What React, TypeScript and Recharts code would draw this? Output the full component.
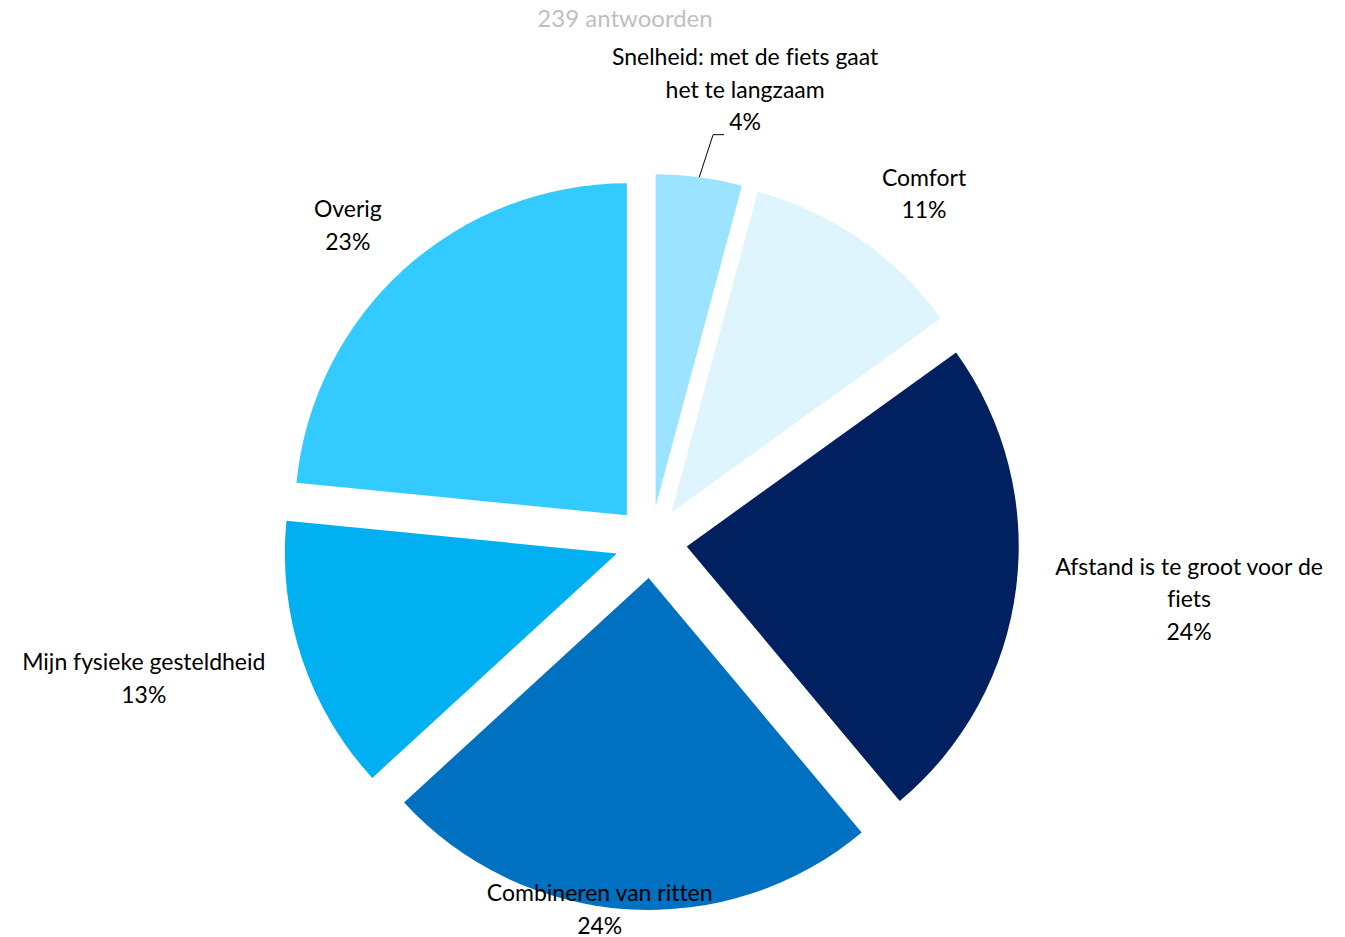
import React from 'react';
import { PieChart, Pie, Cell, Sector } from 'recharts';

// antwoorden per reden (239 totaal)
const categories = [
    'Snelheid: met de fiets gaat het te langzaam',
    'Comfort',
    'Afstand is te groot voor de fiets',
    'Combineren van ritten',
    'Mijn fysieke gesteldheid',
    'Overig',
];
const labelLines = [
    ['Snelheid: met de fiets gaat', 'het te langzaam'],
    ['Comfort'],
    ['Afstand is te groot voor de', 'fiets'],
    ['Combineren van ritten'],
    ['Mijn fysieke gesteldheid'],
    ['Overig'],
];
const counts = [10, 26, 57, 58, 32, 56];
const colors = ['#9BE3FF', '#DFF5FD', '#002060', '#0070C0', '#00B0F0', '#33CAFF'];

// label placement: distance from centre and angle nudge (degrees clockwise)
const labelDistance = [463, 443, 541, 370, 525, 439];
const labelAngleShift = [4.2, 3.4, -1.2, 4.2, 3.5, -1.5];

const EXPLODE = 36;
const RADIUS = 332;
const LINE_H = 32.5;
const FONT = 'Lato, "Open Sans", sans-serif';

const chartData = categories.map((name, i) => ({ name, value: counts[i] }));

const ExplodedSlice = (props: any) => {
    const { cx, cy, midAngle } = props;
    const rad = (-midAngle * Math.PI) / 180;
    return (
        <Sector
            {...props}
            cx={cx + EXPLODE * Math.cos(rad)}
            cy={cy + EXPLODE * Math.sin(rad)}
            stroke="none"
        />
    );
};

const renderLabel = (props: any) => {
    const { cx, cy, midAngle, percent, index } = props;
    const compass = 90 - midAngle + labelAngleShift[index];
    const r = labelDistance[index];
    const x = cx + r * Math.sin((compass * Math.PI) / 180);
    const y = cy - r * Math.cos((compass * Math.PI) / 180);
    const lines = [...labelLines[index], `${Math.round(percent * 100)}%`];

    let leader = null;
    if (index === 0) {
        const rad = (-midAngle * Math.PI) / 180;
        const sx = cx + (EXPLODE + RADIUS) * Math.cos(rad);
        const sy = cy + (EXPLODE + RADIUS) * Math.sin(rad);
        leader = (
            <polyline
                points={`${sx},${sy} ${x - 32},${y + 46} ${x - 21},${y + 46}`}
                fill="none"
                stroke="#000"
                strokeWidth={1}
            />
        );
    }

    return (
        <g key={`lbl-${index}`}>
            {leader}
            {lines.map((t, i) => (
                <text
                    key={i}
                    x={x}
                    y={y + (i - (lines.length - 1) / 2) * LINE_H}
                    textAnchor="middle"
                    dominantBaseline="central"
                    fontFamily={FONT}
                    fontSize={23}
                    fill="#000"
                    style={{ fontVariantLigatures: 'none' }}
                >
                    {t}
                </text>
            ))}
        </g>
    );
};

export default function App() {
    return (
        <div style={{ position: 'absolute', left: 0, top: 0, width: 1345, height: 937, background: '#fff' }}>
            <div
                style={{
                    position: 'absolute',
                    left: 0,
                    top: 3,
                    width: 1250,
                    textAlign: 'center',
                    fontFamily: FONT,
                    fontSize: 24,
                    lineHeight: '30px',
                    color: '#BFBFBF',
                }}
            >
                239 antwoorden
            </div>
            <PieChart width={1345} height={937} margin={{ top: 0, right: 0, bottom: 0, left: 0 }}>
                <Pie
                    data={chartData}
                    dataKey="value"
                    nameKey="name"
                    cx={651}
                    cy={542}
                    outerRadius={RADIUS}
                    startAngle={90}
                    endAngle={-270}
                    shape={ExplodedSlice}
                    label={renderLabel}
                    labelLine={false}
                    isAnimationActive={false}
                >
                    {chartData.map((d, i) => (
                        <Cell key={d.name} fill={colors[i]} />
                    ))}
                </Pie>
            </PieChart>
        </div>
    );
}
